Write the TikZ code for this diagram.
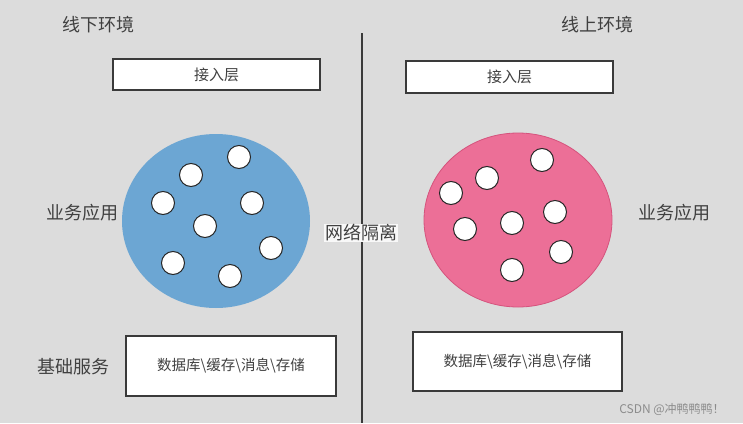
\documentclass[tikz,border=0pt]{standalone}
\usepackage{fontspec}
\newfontfamily\cjk{Noto Sans CJK SC}
\usetikzlibrary{shapes.geometric,positioning}
\definecolor{mBg}{HTML}{DCDCDC}
\definecolor{mBlue}{HTML}{6CA6D3}
\definecolor{mPink}{HTML}{EC6F97}
\definecolor{mPinkDark}{HTML}{D5537D}
\definecolor{mLine}{HTML}{3A3A3A}

\begin{document}
\begin{tikzpicture}[x=1pt,y=-1pt,font=\cjk,
  layerbox/.style={draw=mLine,line width=1.3pt,fill=white,inner sep=0pt,
    text=black!75,font=\cjk\fontsize{14.5}{15}\selectfont},
  pod/.style={circle,draw=black!85,line width=1pt,fill=white,minimum size=23pt,inner sep=0pt},
  zone/.style={ellipse,minimum width=188pt,minimum height=174pt,inner sep=0pt},
  title/.style={font=\cjk\fontsize{18}{19}\selectfont,text=black!75}]
  % background and page size
  \fill[mBg] (0,0) rectangle (743,423);
  \useasboundingbox (0,0) rectangle (743,423);

  % environment titles
  \node[title] (offTitle) at (98,25) {线下环境};
  \node[title] (onTitle) at (597,25) {线上环境};

  % access layer boxes
  \node[layerbox,minimum width=207pt,minimum height=31pt,font=\cjk\fontsize{15}{16}\selectfont] (offAccess) at (216.5,74.5) {接入层};
  \node[layerbox,minimum width=207pt,minimum height=32pt,font=\cjk\fontsize{15}{16}\selectfont] (onAccess) at (509.5,77) {接入层};

  % business application zones
  \node[zone,fill=mBlue] (offZone) at (216,221) {};
  \node[zone,fill=mPink,draw=mPinkDark,line width=0.8pt] (onZone) at (518,220) {};
  \foreach \x/\y [count=\i] in {239/157,191/175,163/203,252/203,205/226,271/248,173/263,230/276}
    \node[pod] (b\i) at (\x,\y) {};
  \foreach \x/\y [count=\i] in {542/160,487/178,451/193,555/212,512/223,465/229,561/252,512/270}
    \node[pod] (p\i) at (\x,\y) {};
  \node[title] (offApp) at (82,213) {业务应用};
  \node[title] (onApp) at (674,213) {业务应用};

  % base service boxes
  \node[layerbox,minimum width=210pt,minimum height=60pt] (offBase) at (231,366) {数据库\textbackslash 缓存\textbackslash 消息\textbackslash 存储};
  \node[layerbox,minimum width=209pt,minimum height=59pt] (onBase) at (517.5,361.5) {数据库\textbackslash 缓存\textbackslash 消息\textbackslash 存储};
  \node[title] (baseLabel) at (73,367) {基础服务};

  % network isolation divider
  \coordinate (wallTop) at (362,33);
  \coordinate (wallBot) at (362,423);
  \draw[mLine,line width=1.6pt] (wallTop) -- (wallBot);
  \node[title,fill=white!80!mBg,inner sep=1pt] (wall) at (361,233) {网络隔离};

  % watermark
  \node[text=black!45,font=\cjk\fontsize{12}{12}\selectfont] (mark) at (672,409) {CSDN @冲鸭鸭鸭！};
\end{tikzpicture}
\end{document}
